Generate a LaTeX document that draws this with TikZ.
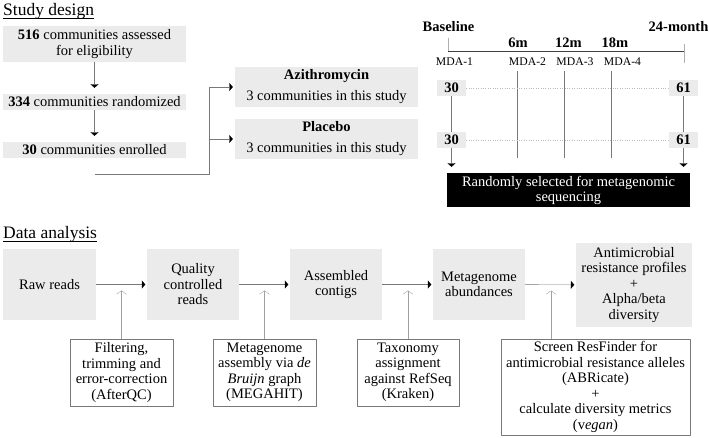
\documentclass[tikz,border=0pt]{standalone}
\usepackage{fontspec}
\setmainfont{Liberation Serif}
\usetikzlibrary{arrows.meta}
\definecolor{boxgray}{RGB}{235,235,235}
\definecolor{linegray}{RGB}{120,120,120}
\tikzset{
	graybox/.style={fill=boxgray,align=center,inner sep=0pt},
	toolbox/.style={draw=linegray,fill=white,align=center,inner sep=0pt},
	flow/.style={draw=linegray,-{Triangle[width=8pt,length=3.5pt,black]}},
	hint/.style={draw=linegray!70,-{Straight Barb[width=10pt,length=3.5pt]}},
	title/.style={anchor=base west,inner sep=0pt,font=\fontsize{17.5}{20}\selectfont},
	uline/.style={line width=0.7pt},
}
\begin{document}
\begin{tikzpicture}[x=1pt,y=-1pt,line join=round,font=\fontsize{14.5}{15.5}\selectfont]
		\useasboundingbox (0,0) rectangle (709,437);
		\def\wbig{183pt}\def\wsmall{92pt}
		% study design
		\node[title] (sd) at (3,15) {Study design};
		\draw[uline] ([yshift=-3pt]sd.base west) -- ([yshift=-3pt]sd.base east);
		\node[graybox,minimum width=\wbig,minimum height=36pt,font=\fontsize{14.5}{16}\selectfont] (assess) at (94.5,44) {\textbf{516} communities assessed\\for eligibility};
		\node[graybox,minimum width=\wbig,minimum height=16pt] (rand) at (94.5,102) {\textbf{334} communities randomized};
		\node[graybox,minimum width=\wbig,minimum height=16pt] (enrol) at (94.5,150) {\textbf{30} communities enrolled};
		\draw[flow,shorten >=6pt] (assess) -- (rand);
		\draw[flow,shorten >=6pt] (rand) -- (enrol);
		\node[graybox,minimum width=\wbig,minimum height=40pt,font=\fontsize{14.5}{21}\selectfont] (azi) at (326.5,87) {\textbf{Azithromycin}\\3 communities in this study};
		\node[graybox,minimum width=\wbig,minimum height=40pt,font=\fontsize{14.5}{21}\selectfont] (plac) at (326.5,139) {\textbf{Placebo}\\3 communities in this study};
		\coordinate (split) at (95,174);
		\coordinate (fork) at (209,174);
		\draw[flow,shorten >=2pt] (split) -- (fork) |- (azi.west);
		\draw[flow,shorten >=2pt] (fork) |- (plac.west);
		% timeline
		\node[font=\fontsize{14.5}{16}\bfseries] (base) at (448.5,27) {Baseline};
		\node[font=\fontsize{14.5}{16}\bfseries] (final) at (678.5,27) {24-month};
		\draw[black!75] (448,51) -- (684,51);
		\draw[linegray!60] (448,38) -- (448,51) (684,44) -- (684,63);
		\foreach \x/\t in {518/6m,568.5/12m,615/18m}
			\node[font=\fontsize{14.5}{16}\bfseries] at (\x,43) {\t};
		\foreach \x/\n in {454.5/1,527.5/2,575/3,622.5/4}
			\node[font=\fontsize{11.7}{13}\selectfont] (mda\n) at (\x,62) {MDA-\n};
		\foreach \x in {517,564,611}
			\draw[linegray] (\x,71) -- (\x,158);
		\node[graybox,minimum width=29pt,minimum height=16pt,font=\fontsize{14.5}{16}\bfseries] (a30) at (451.5,88) {30};
		\node[graybox,minimum width=29pt,minimum height=16pt,font=\fontsize{14.5}{16}\bfseries] (p30) at (451.5,140) {30};
		\node[graybox,minimum width=29pt,minimum height=16pt,font=\fontsize{14.5}{16}\bfseries] (a61) at (683.5,88) {61};
		\node[graybox,minimum width=29pt,minimum height=16pt,font=\fontsize{14.5}{16}\bfseries] (p61) at (683.5,140) {61};
		\draw[linegray!50,dotted] (a30) -- (a61) (p30) -- (p61);
		\node[fill=black,text=white,align=center,inner sep=0pt,minimum width=243pt,minimum height=34pt,font=\fontsize{14.5}{15}\selectfont] (sel) at (568.5,190) {Randomly selected for metagenomic\\sequencing};
		\draw[linegray] (a30) -- (p30) (a61) -- (p61);
		\draw[flow,shorten >=6pt] (p30.south) -- (p30.south |- sel.north);
		\draw[flow,shorten >=6pt] (p61.south) -- (p61.south |- sel.north);
		% data analysis
		\node[title] (da) at (3,238) {Data analysis};
		\draw[uline] ([yshift=-3pt]da.base west) -- ([yshift=-3pt]da.base east);
		\node[graybox,minimum width=93pt,minimum height=71pt] (raw) at (49.5,284.5) {Raw reads};
		\node[graybox,minimum width=\wsmall,minimum height=71pt] (qc) at (193,284.5) {Quality\\controlled\\reads};
		\node[graybox,minimum width=\wsmall,minimum height=71pt] (contig) at (336,284.5) {Assembled\\contigs};
		\node[graybox,minimum width=\wsmall,minimum height=71pt] (abund) at (479,284.5) {Metagenome\\abundances};
		\node[graybox,minimum width=116pt,minimum height=84pt] (amr) at (634,285) {Antimicrobial\\resistance profiles\\+\\Alpha/beta\\diversity};
		\draw[flow,shorten >=1.5pt] (raw) -- (qc);
		\draw[flow,shorten >=1.5pt] (qc) -- (contig);
		\draw[flow,shorten >=1.5pt] (contig) -- (abund);
		\draw[flow,shorten >=1.5pt] (abund) -- (amr);
		\node[toolbox,minimum width=103pt,minimum height=67pt] (filt) at (121.5,372.5) {Filtering,\\trimming and\\error-correction\\(AfterQC)};
		\node[toolbox,minimum width=103pt,minimum height=67pt] (mega) at (264.5,372.5) {Metagenome\\assembly via \textit{de}\\\textit{Bruijn} graph\\(MEGAHIT)};
		\node[toolbox,minimum width=102pt,minimum height=67pt] (tax) at (408,372.5) {Taxonomy\\assignment\\against RefSeq\\(Kraken)};
		\node[toolbox,minimum width=189pt,minimum height=96pt] (screen) at (595.5,387) {Screen ResFinder for\\antimicrobial resistance alleles\\(ABRicate)\\+\\calculate diversity metrics\\(v\textit{egan})};
		\coordinate (scrx) at (551,0);
		\draw[hint,shorten >=6pt] (filt.north) -- (filt.north |- raw.east);
		\draw[hint,shorten >=6pt] (mega.north) -- (mega.north |- raw.east);
		\draw[hint,shorten >=6pt] (tax.north) -- (tax.north |- raw.east);
		\draw[hint,shorten >=6pt] (screen.north -| scrx) -- (scrx |- raw.east);
\end{tikzpicture}
\end{document}
